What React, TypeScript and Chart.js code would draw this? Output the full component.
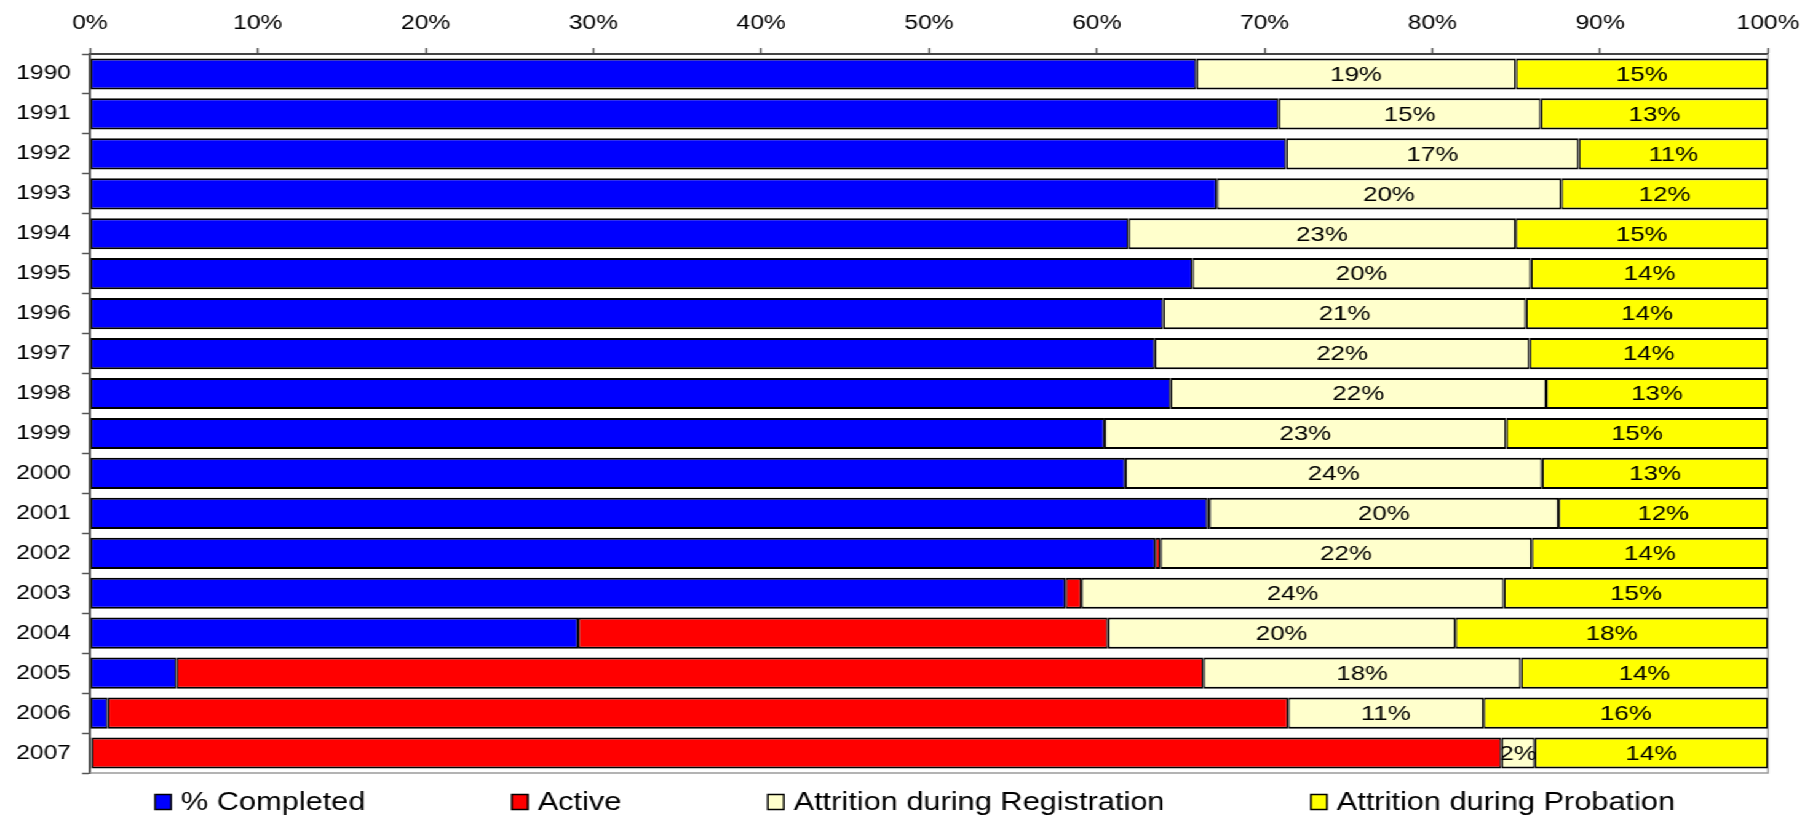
import React, { useEffect, useRef } from 'react';
import { Chart, registerables } from 'chart.js';

Chart.register(...registerables);

// Cohort years (one horizontal bar each)
const years = [
  '1990', '1991', '1992', '1993', '1994', '1995', '1996', '1997', '1998',
  '1999', '2000', '2001', '2002', '2003', '2004', '2005', '2006', '2007',
];

// Raw values per cohort; each bar is shown as a share of its own total (100% stacked)
const completed = [65.8, 68, 69.5, 65.4, 61.7, 65.1, 62.1, 62.5, 63.3, 58.1, 59.6, 64.0, 63.1, 55.4, 28.1, 4.9, 1.0, 0.1];
const active = [0, 0, 0, 0, 0, 0, 0, 0, 0, 0, 0, 0.1, 0.3, 0.9, 30.5, 58.2, 66.4, 84.6];
const attritionRegistration = [19, 15, 17, 20, 23, 20, 21, 22, 22, 23, 24, 20, 22, 24, 20, 18, 11, 2];
const attritionProbation = [15, 13, 11, 12, 15, 14, 14, 14, 13, 15, 13, 12, 14, 15, 18, 14, 16, 14];

const seriesNames = ['% Completed', 'Active', 'Attrition during Registration', 'Attrition during Probation'];
const seriesColors = ['#0000FF', '#FF0000', '#FFFFCC', '#FFFF00'];
const rawSeries = [completed, active, attritionRegistration, attritionProbation];
// Only the two attrition series carry value labels
const labelledSeries = [2, 3];

const percentTickStep = 10;

// Canvas is drawn narrow and widened with a horizontal stretch
const STRETCH = 1.23;
const CANVAS_W = 1465;
const CANVAS_H = 816;
const FONT = '"Liberation Sans", Arial, Helvetica, sans-serif';

const totals = years.map((_, i) => rawSeries.reduce((s, arr) => s + arr[i], 0));
const shareSeries = rawSeries.map((arr) => arr.map((v, i) => (v / totals[i]) * 100));

const segmentLabels = {
  id: 'segmentLabels',
  afterDatasetsDraw(chart: any) {
    const ctx = chart.ctx;
    ctx.save();
    ctx.font = `21px ${FONT}`;
    ctx.fillStyle = '#000';
    ctx.textAlign = 'center';
    ctx.textBaseline = 'middle';
    labelledSeries.forEach((di) => {
      const meta = chart.getDatasetMeta(di);
      meta.data.forEach((el: any, i: number) => {
        const { x, y, base, height } = el.getProps(['x', 'y', 'base', 'height'], true);
        const left = Math.min(x, base);
        const right = Math.max(x, base);
        ctx.save();
        ctx.beginPath();
        ctx.rect(left, y - height / 2, right - left, height);
        ctx.clip();
        ctx.fillText(`${rawSeries[di][i]}%`, (left + right) / 2, y + 1);
        ctx.restore();
      });
    });
    ctx.restore();
  },
};

const plotFrame = {
  id: 'plotFrame',
  beforeDatasetsDraw(chart: any) {
    const { ctx, chartArea } = chart;
    ctx.save();
    ctx.strokeStyle = '#9a9a9a';
    ctx.lineWidth = 1.5;
    ctx.beginPath();
    ctx.moveTo(chartArea.right, chartArea.top);
    ctx.lineTo(chartArea.right, chartArea.bottom);
    ctx.lineTo(chartArea.left, chartArea.bottom);
    ctx.stroke();
    ctx.restore();
  },
};

const legendRow = {
  id: 'legendRow',
  afterDraw(chart: any) {
    const ctx = chart.ctx;
    ctx.save();
    ctx.font = `25px ${FONT}`;
    const boxW = 13;
    const boxH = 15;
    const gap = 8;
    const spacing = 119;
    const centerX = 744;
    const y = 802;
    const items = chart.data.datasets.map((ds: any) => ({
      label: ds.label as string,
      color: ds.backgroundColor as string,
      w: ctx.measureText(ds.label).width,
    }));
    const total =
      items.reduce((s: number, it: any) => s + boxW + gap + it.w, 0) + spacing * (items.length - 1);
    let x = centerX - total / 2;
    ctx.textBaseline = 'middle';
    ctx.textAlign = 'left';
    items.forEach((it: any) => {
      ctx.fillStyle = it.color;
      ctx.fillRect(x, y - boxH / 2, boxW, boxH);
      ctx.strokeStyle = '#000';
      ctx.lineWidth = 1.5;
      ctx.strokeRect(x, y - boxH / 2, boxW, boxH);
      ctx.fillStyle = '#000';
      ctx.fillText(it.label, x + boxW + gap, y + 1);
      x += boxW + gap + it.w + spacing;
    });
    ctx.restore();
  },
};

export default function App() {
  const canvasRef = useRef<HTMLCanvasElement>(null);

  useEffect(() => {
    if (!canvasRef.current) return;
    Chart.defaults.font.family = FONT;
    const chart = new Chart(canvasRef.current, {
      type: 'bar',
      data: {
        labels: years,
        datasets: seriesNames.map((name, di) => ({
          label: name,
          data: shareSeries[di],
          backgroundColor: seriesColors[di],
          borderColor: '#000',
          borderWidth: { top: 2, bottom: 2, left: 1.4, right: 1.4 },
          borderSkipped: false,
          barPercentage: 0.78,
          categoryPercentage: 1,
        })),
      },
      options: {
        indexAxis: 'y',
        responsive: false,
        animation: false,
        devicePixelRatio: 1,
        layout: { padding: { left: 0, right: 27.6, top: 0, bottom: 43 } },
        plugins: {
          legend: { display: false },
          tooltip: { enabled: false },
        },
        scales: {
          x: {
            type: 'linear',
            position: 'top',
            stacked: true,
            min: 0,
            max: 100,
            afterFit: (scale: any) => {
              scale.height = 54;
              scale.paddingLeft = 0;
              scale.paddingRight = 0;
            },
            ticks: {
              stepSize: percentTickStep,
              autoSkip: false,
              maxRotation: 0,
              padding: 13,
              color: '#000',
              font: { size: 20, family: FONT },
              callback: (v: any) => `${v}%`,
            },
            grid: { drawOnChartArea: false, tickLength: 6, color: '#555', tickWidth: 1.5 },
            border: { color: '#444', width: 2 },
          },
          y: {
            type: 'category',
            stacked: true,
            offset: true,
            afterFit: (scale: any) => {
              scale.width = 73.2;
            },
            ticks: {
              padding: 9,
              color: '#000',
              font: { size: 20, family: FONT },
            },
            grid: { offset: true, drawOnChartArea: false, tickLength: 6.5, color: '#555', tickWidth: 1.5 },
            border: { color: '#555', width: 2 },
          },
        },
      },
      plugins: [plotFrame, segmentLabels, legendRow],
    } as any);
    return () => chart.destroy();
  }, []);

  return (
    <div
      style={{
        position: 'fixed',
        left: 0,
        top: 0,
        width: CANVAS_W,
        height: CANVAS_H,
        background: '#fff',
        transform: `scaleX(${STRETCH})`,
        transformOrigin: '0 0',
      }}
    >
      <canvas
        ref={canvasRef}
        width={CANVAS_W}
        height={CANVAS_H}
        style={{ width: CANVAS_W, height: CANVAS_H, display: 'block' }}
      />
    </div>
  );
}
